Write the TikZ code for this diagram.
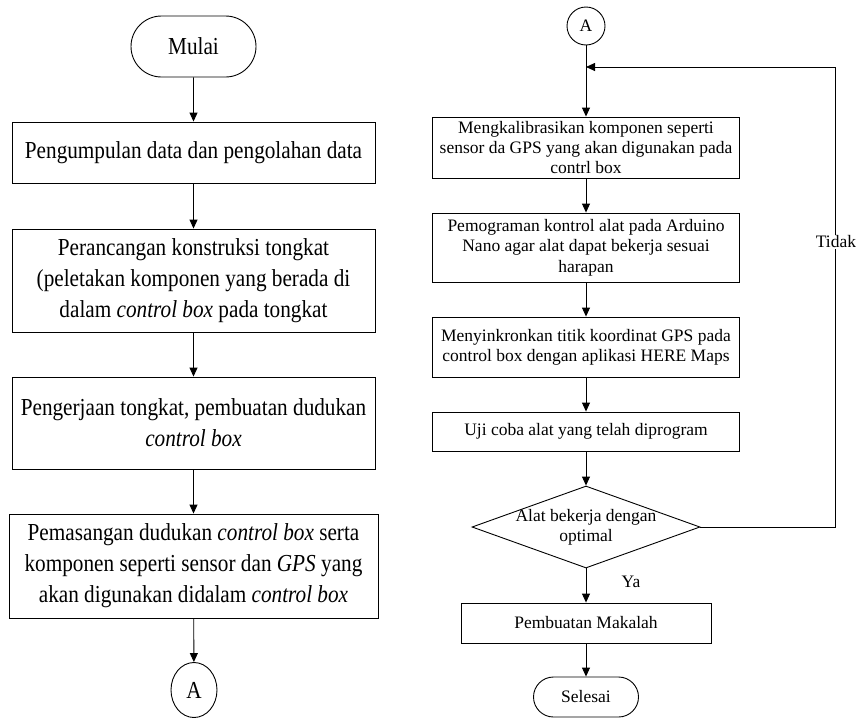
\documentclass[tikz,border=0pt]{standalone}
\usepackage{fontspec}
\setmainfont{Liberation Serif}
\newfontfamily\lfam[FakeStretch=0.87]{Liberation Serif}
\usetikzlibrary{arrows.meta,shapes.geometric,shapes.misc}
\begin{document}
\begin{tikzpicture}[x=1pt,y=-1pt,
  line width=0.9pt,
  every node/.style={inner sep=0pt},
  lfont/.style={font=\lfam\fontsize{24.4}{31}\selectfont, align=center},
  rfont/.style={font=\fontsize{17.5}{20.3}\selectfont, align=center},
  lbox/.style={draw, rectangle, lfont, minimum width=363pt},
  rbox/.style={draw, rectangle, rfont, minimum width=307pt},
  term/.style={draw, rounded rectangle},
  decision/.style={draw, diamond, minimum width=228pt, minimum height=82pt},
  arr/.style={-{Triangle[length=9pt,width=8pt]}},
]
\useasboundingbox (0,0) rectangle (856,718);

% left column
\node[term, lfont, minimum width=125pt, minimum height=61pt] (mulai) at (193.5,46.5) {Mulai};
\node[lbox, minimum height=61pt] (p1) at (193.5,152.5) {Pengumpulan data dan pengolahan data};
\node[lbox, minimum height=103pt] (p2) at (193.5,280.5) {Perancangan konstruksi tongkat\\(peletakan komponen yang berada di\\dalam \textit{control box} pada tongkat};
\node[lbox, minimum height=92pt] (p3) at (193.5,423) {Pengerjaan tongkat, pembuatan dudukan\\\textit{control box}};
\node[lbox, minimum width=369pt, minimum height=104pt] (p4) at (193.5,566) {Pemasangan dudukan \textit{control box} serta\\komponen seperti sensor dan \textit{GPS} yang\\akan digunakan didalam \textit{control box}};
\node[draw, ellipse, lfont, minimum width=46pt, minimum height=55pt] (a1) at (194,690) {A};

\draw[arr] (mulai) -- (p1);
\draw[arr] (p1) -- (p2);
\draw[arr] (p2) -- (p3);
\draw[arr] (p3) -- (p4);
\draw[arr] (p4) -- (a1);

% right column
\node[draw, circle, rfont, minimum size=38pt] (a2) at (586,26) {A};
\node[rbox, minimum height=61pt] (r1) at (586,147.5) {Mengkalibrasikan komponen seperti\\sensor da GPS yang akan digunakan pada\\contrl box};
\node[rbox, minimum height=69pt] (r2) at (586,247.5) {Pemograman kontrol alat pada Arduino\\Nano agar alat dapat bekerja sesuai\\harapan};
\node[rbox, minimum height=60pt] (r3) at (586,347) {Menyinkronkan titik koordinat GPS pada\\control box dengan aplikasi HERE Maps};
\node[rbox, minimum height=39pt] (r4) at (586,431.5) {Uji coba alat yang telah diprogram};
\node[decision] (d) at (586,527) {};
\node[rfont] (dtext) at (586,527.5) {Alat bekerja dengan\\optimal};
\node[rbox, minimum width=250pt, minimum height=40pt] (m) at (586,623) {Pembuatan Makalah};
\node[term, rfont, minimum width=105pt, minimum height=40pt] (s) at (586,697) {Selesai};

\draw[arr] (a2) -- (r1);
\draw[arr] (r1) -- (r2);
\draw[arr] (r2) -- (r3);
\draw[arr] (r3) -- (r4);
\draw[arr] (r4) -- (d.north);
\draw[arr] (d.south) -- (m);
\draw[arr] (m) -- (s);
\node[rfont] (ya) at (631,582) {Ya};

\coordinate (cr) at (835,527);
\coordinate (ct) at (835,67);
\coordinate (loopin) at (586,67);
\draw[arr] (d.east) -- (cr) -- (ct) -- (loopin);
\node[rfont, fill=white, inner sep=1pt] (tidak) at (836,242) {Tidak};
\end{tikzpicture}
\end{document}
